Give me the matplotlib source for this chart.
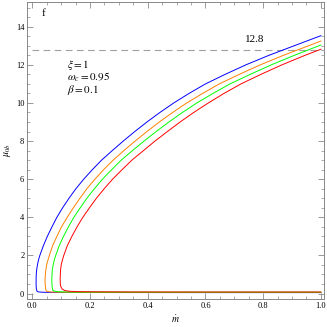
import matplotlib
matplotlib.use('Agg')
import matplotlib.pyplot as plt
from matplotlib.ticker import MultipleLocator

plt.rcParams['font.family'] = ['Liberation Serif', 'DejaVu Serif']
plt.rcParams['mathtext.fontset'] = 'stix'

# each curve: lower branch (from mdot=1 back to the turning point), then upper branch
blue_m = [1.0, 0.6, 0.3, 0.15, 0.08, 0.045, 0.028, 0.02, 0.016, 0.014,
          0.0132, 0.013, 0.0132, 0.014, 0.016, 0.019, 0.022, 0.026,
          0.038, 0.052, 0.068, 0.085, 0.105, 0.127, 0.151, 0.178, 0.208, 0.240,
          0.277, 0.315, 0.355, 0.397, 0.442, 0.49, 0.543, 0.600, 0.668, 0.74,
          0.820, 0.907, 1.0]
blue_mu = [0.05, 0.05, 0.052, 0.055, 0.06, 0.065, 0.075, 0.09, 0.13, 0.22,
           0.4, 0.6, 0.85, 1.1, 1.35, 1.6, 1.8, 2.0,
           2.5, 3.0, 3.5, 4.0, 4.5, 5.0, 5.5, 6.0, 6.5, 7.0,
           7.5, 8.0, 8.5, 9.0, 9.5, 10.0, 10.5, 11.0, 11.5, 12.0,
           12.5, 13.0, 13.53]

orange_m = [1.0, 0.6, 0.3, 0.15, 0.09, 0.065, 0.053, 0.048, 0.046,
            0.045, 0.044, 0.0445, 0.0455, 0.048, 0.051, 0.055, 0.059,
            0.070, 0.085, 0.101, 0.121, 0.142, 0.165, 0.189, 0.217, 0.247, 0.280,
            0.317, 0.356, 0.397, 0.44, 0.486, 0.535, 0.59, 0.648, 0.717, 0.79,
            0.87, 0.957, 1.0]
orange_mu = [0.06, 0.06, 0.062, 0.065, 0.07, 0.08, 0.1, 0.15, 0.25,
             0.4, 0.6, 0.85, 1.1, 1.35, 1.6, 1.8, 2.0,
             2.5, 3.0, 3.5, 4.0, 4.5, 5.0, 5.5, 6.0, 6.5, 7.0,
             7.5, 8.0, 8.5, 9.0, 9.5, 10.0, 10.5, 11.0, 11.5, 12.0,
             12.5, 13.0, 13.25]

green_m = [1.0, 0.6, 0.3, 0.18, 0.12, 0.09, 0.077, 0.071, 0.069,
           0.068, 0.0675, 0.068, 0.069, 0.0715, 0.075, 0.081,
           0.093, 0.108, 0.125, 0.144, 0.166, 0.189, 0.215, 0.243, 0.275, 0.308,
           0.347, 0.387, 0.429, 0.473, 0.52, 0.57, 0.626, 0.685, 0.755, 0.828,
           0.908, 1.0]
green_mu = [0.07, 0.07, 0.072, 0.076, 0.082, 0.095, 0.12, 0.18, 0.3,
            0.45, 0.7, 0.95, 1.2, 1.45, 1.7, 2.0,
            2.5, 3.0, 3.5, 4.0, 4.5, 5.0, 5.5, 6.0, 6.5, 7.0,
            7.5, 8.0, 8.5, 9.0, 9.5, 10.0, 10.5, 11.0, 11.5, 12.0,
            12.5, 13.04]

red_m = [1.0, 0.6, 0.35, 0.22, 0.16, 0.128, 0.112, 0.103, 0.099,
         0.097, 0.0965, 0.097, 0.098, 0.100, 0.104, 0.109,
         0.121, 0.137, 0.155, 0.175, 0.198, 0.222, 0.249, 0.278, 0.311, 0.345,
         0.385, 0.425, 0.468, 0.512, 0.559, 0.61, 0.664, 0.723, 0.792, 0.865,
         0.945, 1.0]
red_mu = [0.08, 0.08, 0.083, 0.09, 0.1, 0.12, 0.16, 0.24, 0.36,
          0.5, 0.75, 1.0, 1.25, 1.5, 1.75, 2.0,
          2.5, 3.0, 3.5, 4.0, 4.5, 5.0, 5.5, 6.0, 6.5, 7.0,
          7.5, 8.0, 8.5, 9.0, 9.5, 10.0, 10.5, 11.0, 11.5, 12.0,
          12.5, 12.82]

mu_ref = 12.8

fig = plt.figure(figsize=(3.27, 3.27), dpi=100)
ax = fig.add_axes([0.083, 0.086, 0.908, 0.908])

ax.axhline(mu_ref, xmin=0.017, color='#a0a0a0', lw=0.8, ls=(0, (6, 4)))
ax.plot(blue_m, blue_mu, color='#0000ff', lw=0.7)
ax.plot(orange_m, orange_mu, color='#ff8000', lw=0.7)
ax.plot(green_m, green_mu, color='#00ff00', lw=0.7)
ax.plot(red_m, red_mu, color='#ff0000', lw=0.7)

ax.set_xlim(-0.018, 1.011)
ax.set_ylim(-0.28, 15.3)

ax.xaxis.set_major_locator(MultipleLocator(0.2))
ax.xaxis.set_minor_locator(MultipleLocator(0.05))
ax.yaxis.set_major_locator(MultipleLocator(2))
ax.yaxis.set_minor_locator(MultipleLocator(0.5))
ax.tick_params(which='both', direction='in', top=True, right=True, color='#888888', labelsize=6, pad=2)
ax.tick_params(which='major', length=4, width=0.6)
ax.tick_params(which='minor', length=2, width=0.5)
ax.xaxis.set_major_formatter(plt.FuncFormatter(lambda v, p: f'{v:.1f}'))
ax.yaxis.set_major_formatter(plt.FuncFormatter(lambda v, p: f'{v:.0f}'))
for s in ax.spines.values():
    s.set_color('#888888')
    s.set_linewidth(0.7)

ax.set_xlabel(r'$\dot{m}$', fontsize=7, labelpad=3)
ax.set_ylabel(r'$\mu_{0b}$', fontsize=7, labelpad=2)

ax.text(0.04, 14.7, 'f', fontsize=8, ha='center', va='center')
ax.text(0.772, 13.35, '12.8', fontsize=8, ha='center', va='center')
ax.text(0.12, 12.0, r'$\xi = 1$', fontsize=8, ha='left', va='center')
ax.text(0.12, 11.35, r'$\omega_c = 0.95$', fontsize=8, ha='left', va='center')
ax.text(0.12, 10.7, r'$\beta = 0.1$', fontsize=8, ha='left', va='center')

fig.savefig('out.png', dpi=100)
